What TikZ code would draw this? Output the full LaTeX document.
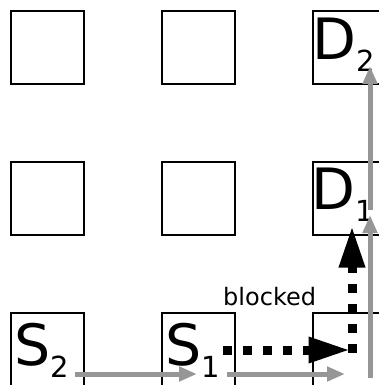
\documentclass[tikz,border=0pt]{standalone}
\usepackage{fontspec}
\setmainfont{DejaVu Sans}
\usetikzlibrary{arrows.meta,calc}
\definecolor{pathgray}{RGB}{150,150,150}
\tikzset{
  cell/.style={draw=black, line width=2pt, minimum size=73pt, inner sep=0pt, fill=white},
  lbl/.style={inner sep=0pt, anchor=base west},
  route/.style={draw=pathgray, line width=5pt, -{Triangle[length=18pt,width=14pt]}},
  detour/.style={draw=black, line width=9pt, dash pattern=on 9pt off 11pt,
    -{Triangle[length=42pt,width=24pt]}},
}
\newcommand{\cellname}[2]{{\fontsize{57}{57}\selectfont #1}\raisebox{-12pt}{\fontsize{29}{29}\selectfont #2}}
\begin{document}
\begin{tikzpicture}[x=1pt,y=-1pt]
  \useasboundingbox (0,0) rectangle (379,385);
  \clip (0,0) rectangle (379,385);
  % grid of cells
  \node[cell] (a1) at (47.5,47.5) {};
  \node[cell] (a2) at (198.5,47.5) {};
  \node[cell] (d2) at (349.5,47.5) {};
  \node[cell] (b1) at (47.5,198.5) {};
  \node[cell] (b2) at (198.5,198.5) {};
  \node[cell] (d1) at (349.5,198.5) {};
  \node[cell] (s2) at (47.5,349.5) {};
  \node[cell] (s1) at (198.5,349.5) {};
  \node[cell] (t) at (349.5,349.5) {};
  % cell labels
  \node[lbl] (s2l) at (14,365) {\cellname{S}{2}};
  \node[lbl] (s1l) at (165,365) {\cellname{S}{1}};
  \node[lbl] (d2l) at (312,60) {\cellname{D}{2}};
  \node[lbl] (d1l) at (311,209) {\cellname{D}{1}};
  % grey route along the bottom row and right column
  \draw[route] ($(s2.center)+(27.5,24.5)$) -- ($(s1.center)+(-1.5,24.5)$);
  \draw[route] ($(s1.center)+(28.5,24.5)$) -- ($(t.center)+(-4.5,24.5)$);
  \draw[route] ($(t.center)+(20.5,28.5)$) -- ($(d1.center)+(20.5,16.5)$);
  \draw[route] ($(d1.center)+(20.5,11.5)$) -- ($(d2.center)+(20.5,18.5)$);
  % blocked detour
  \draw[detour] ($(s1.center)+(24.5,0.5)$) -- ($(t.center)+(1,0.5)$);
  \draw[detour] ($(t.center)+(2.5,3)$) -- ($(d1.center)+(2.5,27)$);
  \node[lbl, font=\fontsize{24}{24}\selectfont] (blk) at (223,305) {blocked};
\end{tikzpicture}
\end{document}
